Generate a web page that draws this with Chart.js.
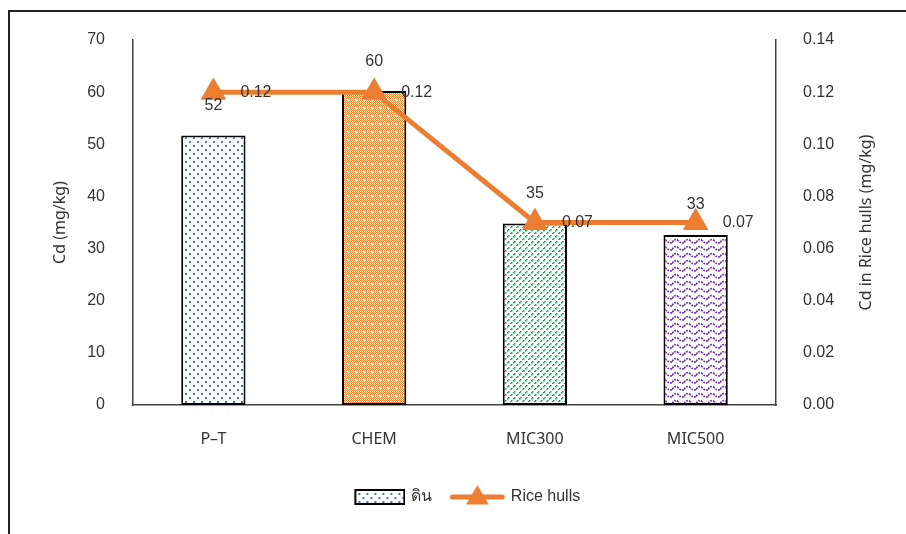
<!DOCTYPE html>
<html>
<head>
<meta charset="utf-8">
<script src="https://cdn.jsdelivr.net/npm/chart.js@4"></script>
<style>
  html, body { margin: 0; padding: 0; background: #fff; overflow: hidden; }
  #frame { position: absolute; left: 8px; top: 10px; width: 1000px; height: 700px; border: 2px solid #222; }
  #wrap { position: absolute; left: 0; top: 0; width: 906px; height: 534px; }
</style>
</head>
<body>
<div id="frame"></div>
<div id="wrap"><canvas id="cdChart"></canvas></div>
<script>
const categories = ["P–T", "CHEM", "MIC300", "MIC500"];
const soilCd = [51.7, 60.2, 34.8, 32.6];
const huskCd = [0.12, 0.12, 0.07, 0.07];
const leftTicks = [0, 10, 20, 30, 40, 50, 60, 70];
const rightTicks = [0, 0.02, 0.04, 0.06, 0.08, 0.10, 0.12, 0.14];

const numFont = { family: '"Liberation Sans", Arial, sans-serif', size: 16 };
const catFont = { family: '"Noto Sans", "Liberation Sans", sans-serif', size: 16 };
const textColor = '#333';
const orange = '#ED7D31';

// small tiled fills for the bars
function makeTile(w, h, draw) {
  const c = document.createElement('canvas');
  c.width = w; c.height = h;
  const g = c.getContext('2d');
  draw(g);
  return c;
}
function toPattern(tile) {
  return document.createElement('canvas').getContext('2d').createPattern(tile, 'repeat');
}

const dotTile = makeTile(8, 8, g => {
  g.fillStyle = '#fff'; g.fillRect(0, 0, 8, 8);
  g.fillStyle = '#4472C4';
  g.fillRect(1, 1, 2, 2);
  g.fillRect(5, 5, 2, 2);
});
const meshTile = makeTile(8, 8, g => {
  g.fillStyle = '#fff'; g.fillRect(0, 0, 8, 8);
  g.fillStyle = orange;
  for (let y = 0; y < 8; y++)
    for (let x = y % 2; x < 8; x += 2) g.fillRect(x, y, 1, 1);
  g.fillStyle = '#F8CBAD';
  g.fillRect(0, 3, 8, 1);
  g.fillStyle = '#fff';
  g.fillRect(3, 3, 2, 2);
});
const diagTile = makeTile(6, 6, g => {
  g.fillStyle = '#fff'; g.fillRect(0, 0, 6, 6);
  g.fillStyle = '#00B050';
  for (let i = 0; i < 6; i++) if (i % 3 !== 2) g.fillRect(i, 5 - i, 1.5, 1.5);
});
const waveTile = makeTile(12, 7, g => {
  g.fillStyle = '#fff'; g.fillRect(0, 0, 12, 7);
  g.strokeStyle = '#7030A0'; g.lineWidth = 1.6;
  g.setLineDash([2, 1]);
  g.beginPath();
  g.moveTo(0, 4.5);
  g.quadraticCurveTo(3, 0, 6, 2.5);
  g.quadraticCurveTo(9, 6, 12, 4.5);
  g.stroke();
});
const barFills = [dotTile, meshTile, diagTile, waveTile].map(toPattern);

// legend graphics
const boxIcon = makeTile(60, 18, g => {
  g.fillStyle = toPattern(dotTile);
  g.fillRect(10, 2, 49, 14);
  g.strokeStyle = '#000'; g.lineWidth = 2;
  g.strokeRect(10, 2, 49, 14);
});
const lineIcon = makeTile(60, 26, g => {
  g.strokeStyle = orange; g.lineWidth = 5; g.lineCap = 'round';
  g.beginPath(); g.moveTo(7, 13); g.lineTo(57, 13); g.stroke();
  g.fillStyle = orange;
  const cx = 32, cy = 14, r = 13;
  g.beginPath();
  g.moveTo(cx, cy - r);
  g.lineTo(cx + r * 0.87, cy + r / 2);
  g.lineTo(cx - r * 0.87, cy + r / 2);
  g.closePath(); g.fill();
});

const valueLabels = {
  id: 'valueLabels',
  afterDatasetsDraw(chart) {
    const ctx = chart.ctx;
    ctx.save();
    ctx.font = `${numFont.size}px ${numFont.family}`;
    ctx.fillStyle = textColor;
    ctx.textBaseline = 'middle';
    ctx.textAlign = 'center';
    chart.getDatasetMeta(1).data.forEach((bar, i) => {
      ctx.fillText(Math.round(soilCd[i]), bar.x, bar.y - 30);
    });
    ctx.textAlign = 'left';
    chart.getDatasetMeta(0).data.forEach((pt, i) => {
      ctx.fillText(huskCd[i].toFixed(2), pt.x + 27, pt.y);
    });
    ctx.restore();
  },
  afterDraw(chart) {
    // right axis title reads bottom to top
    const ctx = chart.ctx;
    const area = chart.chartArea;
    ctx.save();
    ctx.font = `${catFont.size}px ${catFont.family}`;
    ctx.fillStyle = textColor;
    ctx.textAlign = 'center';
    ctx.textBaseline = 'middle';
    ctx.translate(866, (area.top + area.bottom) / 2);
    ctx.rotate(-Math.PI / 2);
    ctx.fillText('Cd in Rice hulls (mg/kg)', 0, 0);
    ctx.restore();
  }
};

new Chart(document.getElementById('cdChart'), {
  data: {
    labels: categories,
    datasets: [
      {
        type: 'line',
        label: 'Rice hulls',
        data: huskCd,
        yAxisID: 'y1',
        order: 0,
        borderColor: orange,
        borderWidth: 5,
        pointStyle: 'triangle',
        pointRadius: 14,
        pointBackgroundColor: orange,
        pointBorderColor: orange,
        pointBorderWidth: 1,
        tension: 0,
        clip: false
      },
      {
        type: 'bar',
        label: 'ดิน',
        data: soilCd,
        yAxisID: 'y',
        order: 1,
        backgroundColor: barFills,
        borderColor: '#000',
        borderWidth: 2,
        borderSkipped: false,
        barPercentage: 0.4,
        categoryPercentage: 1
      }
    ]
  },
  options: {
    responsive: true,
    maintainAspectRatio: false,
    animation: false,
    layout: { padding: { left: 22, right: 0, top: 40, bottom: 19 } },
    plugins: {
      tooltip: { enabled: false },
      legend: {
        position: 'bottom',
        labels: {
          usePointStyle: true,
          pointStyleWidth: 55,
          padding: 16,
          color: textColor,
          font: { family: '"Liberation Sans", "Noto Sans", sans-serif', size: 16 },
          generateLabels: () => [
            { text: 'ดิน', pointStyle: boxIcon, fillStyle: '#fff', strokeStyle: '#000', lineWidth: 0, fontColor: textColor, datasetIndex: 1 },
            { text: 'Rice hulls', pointStyle: lineIcon, fillStyle: orange, strokeStyle: orange, lineWidth: 0, fontColor: textColor, datasetIndex: 0 }
          ]
        }
      }
    },
    scales: {
      x: {
        grid: { display: false, drawTicks: false },
        border: { display: true, color: '#404040', width: 1.5 },
        ticks: { padding: 25, color: textColor, font: catFont },
        afterFit: s => { s.height = 68; }
      },
      y: {
        position: 'left',
        min: 0, max: 70,
        grid: { display: false, drawTicks: false },
        border: { display: true, color: '#404040', width: 1.5 },
        ticks: { padding: 28, color: textColor, font: numFont },
        afterBuildTicks: s => { s.ticks = leftTicks.map(v => ({ value: v })); },
        afterFit: s => { s.width = 111; },
        title: { display: true, text: 'Cd (mg/kg)', color: textColor, font: catFont, padding: { top: 29, bottom: 0 } }
      },
      y1: {
        position: 'right',
        min: 0, max: 0.14,
        grid: { display: false, drawTicks: false },
        border: { display: true, color: '#404040', width: 1.5 },
        ticks: { padding: 27, color: textColor, font: numFont, callback: v => v.toFixed(2) },
        afterBuildTicks: s => { s.ticks = rightTicks.map(v => ({ value: v })); },
        afterFit: s => { s.width = 130; }
      }
    }
  },
  plugins: [valueLabels]
});
</script>
</body>
</html>
